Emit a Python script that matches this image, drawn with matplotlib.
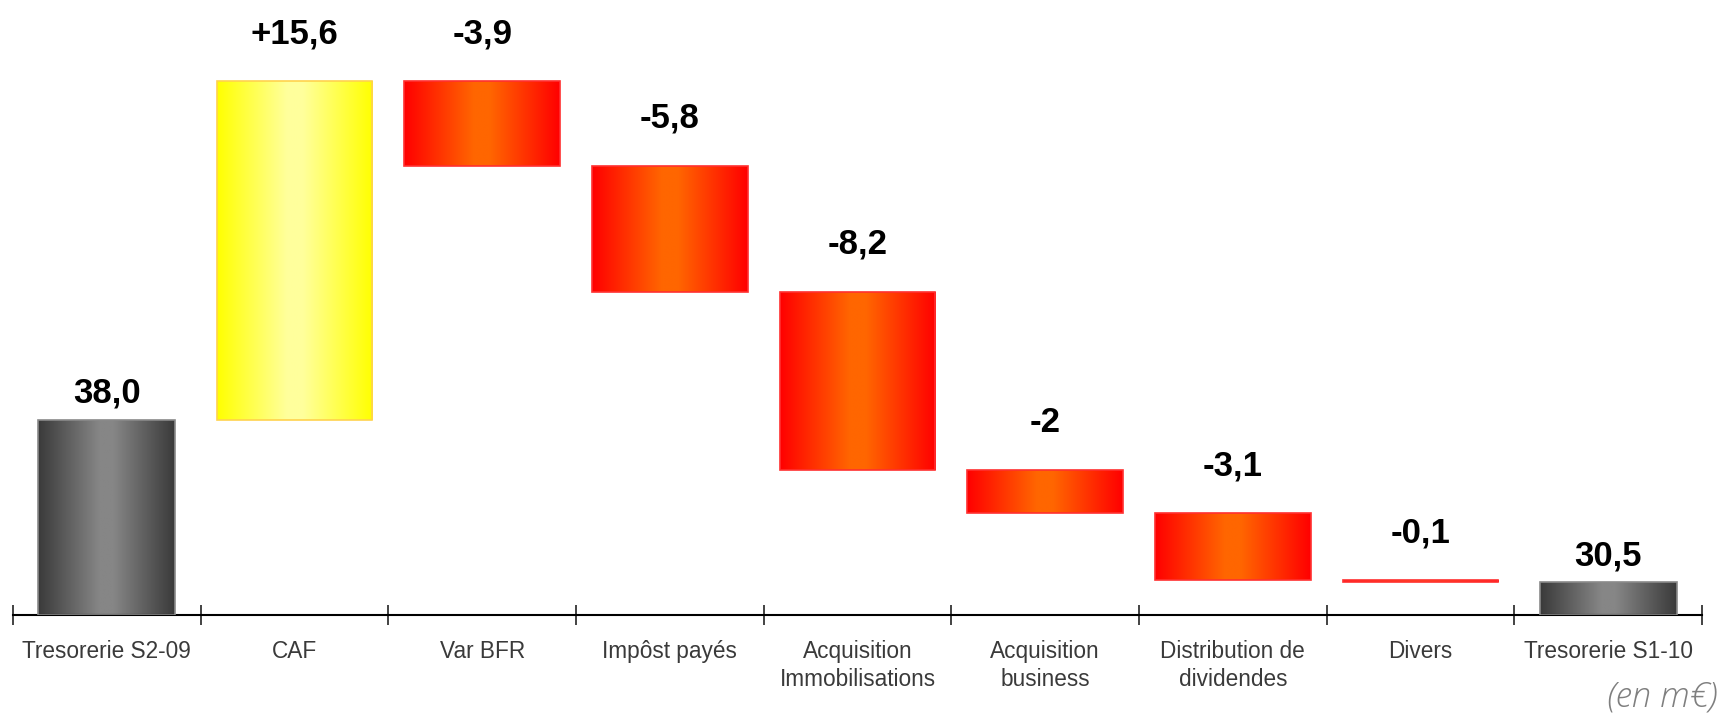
import numpy as np
import matplotlib
matplotlib.use("Agg")
import matplotlib.pyplot as plt
from matplotlib.patches import Rectangle
from matplotlib.colors import LinearSegmentedColormap

# ---- data ----
categories = ["Tresorerie S2-09", "CAF", "Var BFR", "Impôst payés",
              "Acquisition\nImmobilisations", "Acquisition\nbusiness",
              "Distribution de\ndividendes", "Divers", "Tresorerie S1-10"]
values = [38.0, 15.6, -3.9, -5.8, -8.2, -2.0, -3.1, -0.1, 30.5]
kinds = ["total", "up", "down", "down", "down", "down", "down", "down", "total"]
labels = ["38,0", "+15,6", "-3,9", "-5,8", "-8,2", "-2", "-3,1", "-0,1", "30,5"]

Y_MIN = 29.0

plt.rcParams['font.family'] = ['Liberation Sans', 'DejaVu Sans']

fig = plt.figure(figsize=(17.22, 7.17), dpi=100)
W, H = 1722, 717
ax = fig.add_axes([13 / W, (H - 615) / H, (1702 - 13) / W, 615 / H])
ax.set_xlim(-0.5, len(categories) - 0.5)
ax.set_ylim(Y_MIN, Y_MIN + 615 / 21.7)

styles = {
    "total": dict(edge="#3a3a3a", mid="#868686", line="#8a8a8a", width=0.73),
    "up": dict(edge="#ffff00", mid="#ffff9c", line="#ffd24d", width=0.83),
    "down": dict(edge="#ff0000", mid="#ff6600", line="#ff3030", width=0.83),
}

def gradient_bar(ax, x, y0, y1, st):
    w = st["width"]
    cmap = LinearSegmentedColormap.from_list("g", [st["edge"], st["mid"]])
    t = np.linspace(0, 1, 512)
    prof = np.interp(t, [0, 0.45, 0.55, 1], [0, 1, 1, 0])
    img = prof[np.newaxis, :]
    lo, hi = min(y0, y1), max(y0, y1)
    im = ax.imshow(img, cmap=cmap, aspect="auto", extent=[x - w / 2, x + w / 2, lo, hi],
                   interpolation="bilinear", vmin=0, vmax=1, zorder=2)
    rect = Rectangle((x - w / 2, lo), w, hi - lo, facecolor="none",
                     edgecolor=st["line"], linewidth=1.2, zorder=3)
    ax.add_patch(rect)
    im.set_clip_path(rect)
    return lo, hi

running = 0.0
for i, (v, k, lab) in enumerate(zip(values, kinds, labels)):
    st = styles[k]
    if k == "total":
        y0, y1 = Y_MIN, v
        running = v
        gap = 17
    else:
        y0, y1 = running, running + v
        running = running + v
        gap = 38
    lo, hi = gradient_bar(ax, i, y0, y1, st)
    ax.annotate(lab, (i, hi), xytext=(0, gap), textcoords="offset pixels",
                ha="center", va="baseline", fontsize=25, fontweight="bold",
                color="black", zorder=5)

ax.set_aspect("auto")
for s in ["left", "right", "top"]:
    ax.spines[s].set_visible(False)
ax.spines["bottom"].set_color("black")
ax.spines["bottom"].set_linewidth(1.5)
ax.set_yticks([])

ax.set_xticks(np.arange(-0.5, len(categories), 1.0))
ax.set_xticklabels([])
ax.tick_params(axis="x", which="major", direction="inout", length=14, width=1.2, color="#222222")
ax.set_xticks(np.arange(len(categories)), minor=True)
ax.set_xticklabels(categories, minor=True, fontsize=16.3, color="#3a3a3a", linespacing=1.25)
ax.tick_params(axis="x", which="minor", length=0, pad=18)

fig.text(1718 / W, 1 - 706 / H, "(en m€)", ha="right", va="baseline",
         fontsize=25, style="italic", color="#7f7f7f", family=["Open Sans", "DejaVu Sans"],
         fontweight="light")

fig.savefig("out.png", dpi=100)
